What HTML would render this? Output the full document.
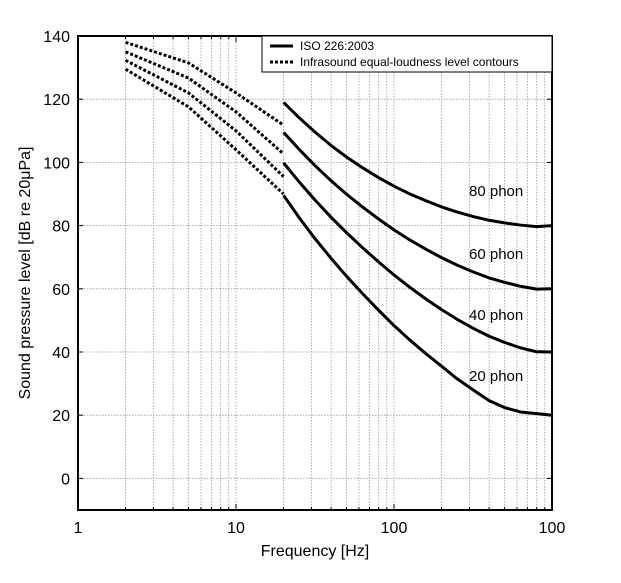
<!DOCTYPE html>
<html><head><meta charset="utf-8"><style>
body{margin:0;background:#fff}
svg{display:block;font-family:"Liberation Sans",Arial,sans-serif}
</style></head><body>
<svg id="s" width="621" height="583" xmlns="http://www.w3.org/2000/svg"></svg>
<script>
const L=78,R=552,T=36,B=510;
const X=f=>L+Math.log10(f)*158;
const Y=v=>T+(140-v)*3.16;
let h='';
for(let d=1;d<=100;d*=10)for(let k=1;k<10;k++){const f=d*k;if(f<=1||f>=1000)continue;const x=X(f);
h+=`<line x1="${x}" y1="${T}" x2="${x}" y2="${B}" stroke="#999" stroke-width="0.8" stroke-dasharray="1.5,1.5"/>`;
const tl=(k==1)?6:3;
h+=`<line x1="${x}" y1="${B}" x2="${x}" y2="${B-tl}" stroke="#000"/><line x1="${x}" y1="${T}" x2="${x}" y2="${T+tl}" stroke="#000"/>`;}
for(let v=0;v<=120;v+=20){const y=Y(v);
h+=`<line x1="${L}" y1="${y}" x2="${R}" y2="${y}" stroke="#999" stroke-width="0.8" stroke-dasharray="1.5,1.5"/>`;
h+=`<line x1="${L}" y1="${y}" x2="${L+5}" y2="${y}" stroke="#000"/><line x1="${R}" y1="${y}" x2="${R-5}" y2="${y}" stroke="#000"/>`;}
for(let v=0;v<=140;v+=20)h+=`<text x="${L-8}" y="${Y(v)+6}" font-size="16" text-anchor="end">${v}</text>`;
[[1,'1'],[10,'10'],[100,'100'],[1000,'100']].forEach(([f,t])=>h+=`<text x="${X(f)}" y="${B+23}" font-size="16" text-anchor="middle">${t}</text>`);
const fr=[20,25,31.5,40,50,63,80,100,125,160,200,250,315,400,500,630,800,1000];
const iso=[[89.58,82.65,75.98,69.62,64.02,58.55,53.19,48.38,43.94,39.37,35.51,31.58,28.09,24.61,22.42,21.02,20.51,20.00],
[99.85,93.94,88.17,82.63,77.78,73.08,68.48,64.37,60.59,56.70,53.41,50.40,47.58,44.98,43.05,41.34,40.06,40.01],
[109.51,104.23,99.08,94.18,89.96,85.94,82.05,78.65,75.56,72.47,69.86,67.53,65.39,63.45,62.05,60.81,59.89,60.01],
[118.99,114.23,109.65,105.34,101.72,98.36,95.17,92.48,90.09,87.82,85.92,84.31,82.89,81.68,80.86,80.17,79.67,80.00]];
iso.forEach(c=>{h+=`<polyline fill="none" stroke="#000" stroke-width="3" stroke-linejoin="round" points="${fr.map((f,i)=>X(f)+','+Y(c[i])).join(' ')}"/>`;});
const inf=[[[2,129.5],[5,117.6],[10,104],[20,90]],[[2,132.3],[5,122],[10,110],[20,95.5]],[[2,135],[5,126.7],[10,116],[20,102.7]],[[2,138],[5,131.5],[10,122],[20,111.8]]];
inf.forEach(c=>{h+=`<polyline fill="none" stroke="#000" stroke-width="3" stroke-linejoin="round" stroke-dasharray="3,2" points="${c.map(p=>X(p[0])+','+Y(p[1])).join(' ')}"/>`;});
[['80 phon',196],['60 phon',259],['40 phon',320],['20 phon',381]].forEach(([t,y])=>h+=`<text x="469" y="${y}" font-size="15">${t}</text>`);
h+=`<rect x="${L}" y="${T}" width="${R-L}" height="${B-T}" fill="none" stroke="#000" stroke-width="2"/>`;
h+=`<rect x="262" y="36" width="290" height="36" fill="#fff" stroke="#000" stroke-width="1"/>`;
h+=`<line x1="270" y1="46" x2="293" y2="46" stroke="#000" stroke-width="3"/><text x="300" y="50" font-size="12">ISO 226:2003</text>`;
h+=`<line x1="270" y1="62" x2="293" y2="62" stroke="#000" stroke-width="3" stroke-dasharray="3,2"/><text x="300" y="66" font-size="12">Infrasound equal-loudness level contours</text>`;
h+=`<text x="315" y="556" font-size="16" text-anchor="middle">Frequency [Hz]</text>`;
h+=`<text transform="translate(30,273) rotate(-90)" font-size="16" text-anchor="middle">Sound pressure level [dB re 20μPa]</text>`;
document.getElementById('s').innerHTML=h;
</script>
</body></html>
